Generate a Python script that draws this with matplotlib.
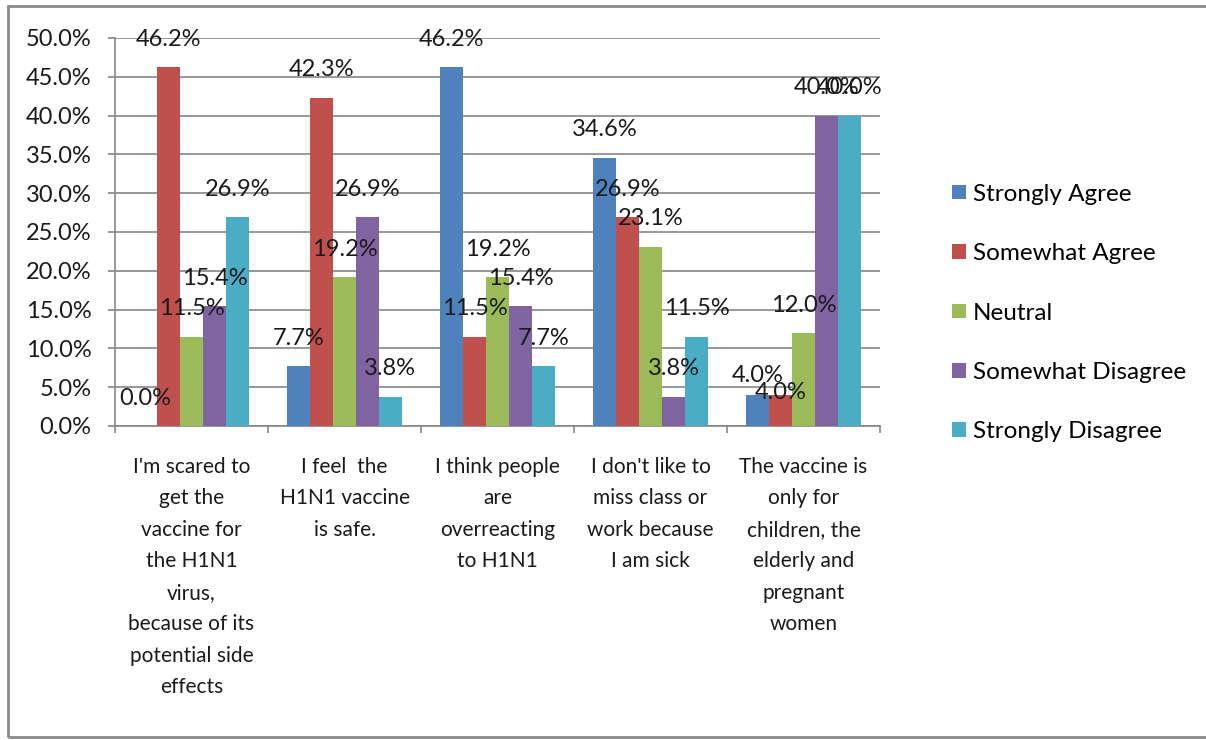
import numpy as np
import matplotlib
matplotlib.use('Agg')
import matplotlib.pyplot as plt
from matplotlib.patches import Rectangle

categories = [
    "I'm scared to\nget the\nvaccine for\nthe H1N1\nvirus,\nbecause of its\npotential side\neffects",
    "I feel  the\nH1N1 vaccine\nis safe.",
    "I think people\nare\noverreacting\nto H1N1",
    "I don't like to\nmiss class or\nwork because\nI am sick",
    "The vaccine is\nonly for\nchildren, the\nelderly and\npregnant\nwomen",
]
series_names = ["Strongly Agree", "Somewhat Agree", "Neutral",
                "Somewhat Disagree", "Strongly Disagree"]
strongly_agree = [0.0, 7.7, 46.2, 34.6, 4.0]
somewhat_agree = [46.2, 42.3, 11.5, 26.9, 4.0]
neutral = [11.5, 19.2, 19.2, 23.1, 12.0]
somewhat_disagree = [15.4, 26.9, 15.4, 3.8, 40.0]
strongly_disagree = [26.9, 3.8, 7.7, 11.5, 40.0]
colors = ['#4F81BD', '#C0504D', '#9BBB59', '#8064A2', '#4BACC6']

values = [strongly_agree, somewhat_agree, neutral, somewhat_disagree, strongly_disagree]

# Excel nudged the two crowded 4.0% labels; (series, category) -> offset in points
label_nudge = {(0, 4): 14, (1, 4): 2}

plt.rcParams['font.family'] = ['Lato', 'DejaVu Sans']
grid_col = '#868686'
txt_col = '#1a1a1a'

fig = plt.figure(figsize=(12.06, 7.40), dpi=100)
ax = fig.add_axes([115 / 1206, 314 / 740, 765 / 1206, 388 / 740])

x = np.arange(len(categories))
w = 0.15
for i, (name, vals) in enumerate(zip(series_names, values)):
    pos = x + (i - 2) * w
    ax.bar(pos, vals, width=w, color=colors[i], label=name, zorder=3)
    for j, (px, v) in enumerate(zip(pos, vals)):
        off = label_nudge.get((i, j), 20)
        ax.annotate(f'{v:.1f}%', (px, v), xytext=(0, off), textcoords='offset points',
                    ha='center', va='center', fontsize=17, color=txt_col, zorder=5)

ax.set_xlim(-0.5, 4.5)
ax.set_ylim(0, 50)
ax.set_yticks(np.arange(0, 51, 5))
ax.set_yticklabels([f'{t:.1f}%' for t in np.arange(0, 51, 5)])
ax.yaxis.grid(True, color=grid_col, linewidth=1.2, zorder=0)
ax.tick_params(axis='y', length=5, width=1.2, color=grid_col, pad=12, labelsize=17,
               labelcolor=txt_col)

ax.set_xticks(x)
ax.set_xticklabels(categories, fontsize=15, linespacing=1.72, color=txt_col)
ax.set_xticks(np.arange(-0.5, 4.6, 1), minor=True)
ax.tick_params(axis='x', which='major', length=0, pad=22)
ax.tick_params(axis='x', which='minor', length=5, width=1.2, color=grid_col)

for s in ['top', 'right']:
    ax.spines[s].set_visible(False)
for s in ['left', 'bottom']:
    ax.spines[s].set_color(grid_col)
    ax.spines[s].set_linewidth(1.2)

fig.legend(loc='center left', bbox_to_anchor=(940 / 1206, 0.577), frameon=False,
           fontsize=17.5, handlelength=0.55, handleheight=0.55, handletextpad=0.3,
           labelspacing=1.58, borderpad=0)

fig.patches.append(Rectangle((8 / 1206, 3 / 740), 1.0, 731 / 740, transform=fig.transFigure,
                             fill=False, edgecolor='#8a8a8a', linewidth=2))

fig.savefig('out.png', dpi=100)
